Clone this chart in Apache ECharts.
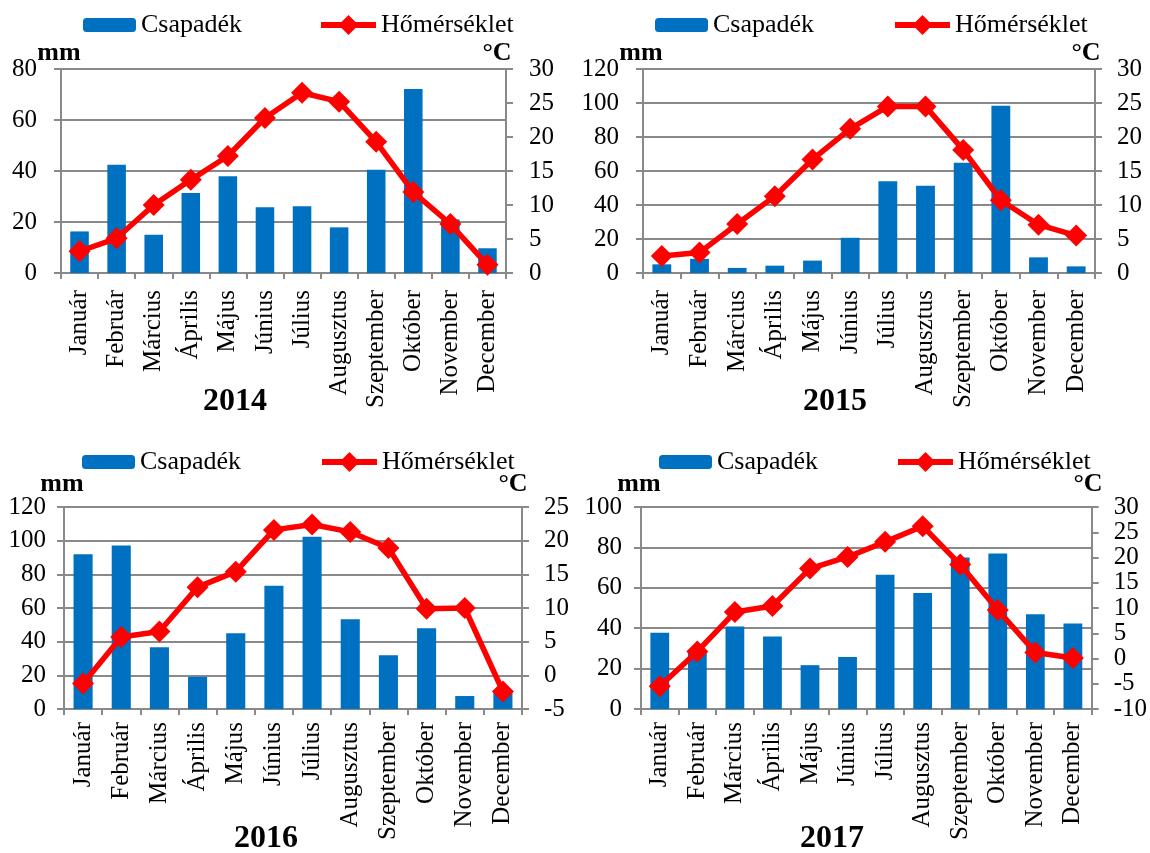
<!DOCTYPE html>
<html>
<head>
<meta charset="utf-8">
<script src="https://cdn.jsdelivr.net/npm/echarts@6/dist/echarts.min.js"></script>
<style>
  html, body { margin: 0; padding: 0; background: #ffffff; }
  #chart { width: 1150px; height: 853px; }
</style>
</head>
<body>
<div id="chart"></div>
<script>
// Monthly precipitation (mm) and mean temperature (°C), 2014–2017
const months = ['Január', 'Február', 'Március', 'Április', 'Május', 'Június',
                'Július', 'Augusztus', 'Szeptember', 'Október', 'November', 'December'];

const precip2014 = [16.3, 42.5, 15.0, 31.4, 37.9, 25.8, 26.2, 17.9, 40.5, 72.2, 21.0, 9.7];
const temp2014   = [3.2, 5.1, 10.0, 13.7, 17.2, 22.8, 26.5, 25.2, 19.3, 11.9, 7.2, 1.2];

const precip2015 = [5.1, 8.3, 3.0, 4.3, 7.3, 20.7, 53.9, 51.3, 64.9, 98.4, 9.2, 3.9];
const temp2015   = [2.5, 3.0, 7.2, 11.3, 16.7, 21.2, 24.5, 24.5, 18.1, 10.7, 7.1, 5.5];

const precip2016 = [92.0, 97.1, 36.7, 19.1, 45.0, 73.2, 102.4, 53.3, 32.0, 48.0, 7.7, 11.0];
const temp2016   = [-1.2, 5.7, 6.5, 13.1, 15.4, 21.6, 22.4, 21.3, 18.9, 9.9, 10.0, -2.4];

const precip2017 = [37.8, 28.4, 40.8, 35.9, 21.7, 25.7, 66.4, 57.4, 75.0, 77.0, 46.9, 42.3];
const temp2017   = [-5.5, 1.4, 9.2, 10.4, 17.8, 20.1, 23.1, 26.2, 18.6, 9.6, 1.2, 0.1];

const years = ['2014', '2015', '2016', '2017'];
const precipByYear = [precip2014, precip2015, precip2016, precip2017];
const tempByYear = [temp2014, temp2015, temp2016, temp2017];

// Axis ranges per panel: [mm max, °C min, °C max]
const axisRanges = [[80, 0, 30], [120, 0, 30], [120, -5, 25], [100, -10, 30]];

// Panel placement (pixels)
const layout = [
  { left: 61,  top: 69,  width: 445, height: 204, lblMargin: 17, lMargin: 24, rMargin: 23,
    legBar: 83,  legLine: 318, legY: 25,  unitY: 53,  yearX: 235, yearY: 402 },
  { left: 643, top: 69,  width: 452, height: 204, lblMargin: 17, lMargin: 24, rMargin: 22,
    legBar: 655, legLine: 892, legY: 25,  unitY: 53,  yearX: 835, yearY: 402 },
  { left: 64,  top: 507, width: 458, height: 202, lblMargin: 13, lMargin: 18, rMargin: 22,
    legBar: 82,  legLine: 319, legY: 462, unitY: 484, yearX: 266, yearY: 839 },
  { left: 641, top: 507, width: 456, height: 202, lblMargin: 13, lMargin: 19, rMargin: 22,
    legBar: 659, legLine: 895, legY: 462, unitY: 484, yearX: 832, yearY: 839 }
];

const FONT = '"Liberation Serif", "Times New Roman", serif';
const GRID_GRAY = '#898989';
const BAR_BLUE = '#0070C0';
const LINE_RED = '#FF0000';

const grids = [], xAxes = [], yAxes = [], series = [], legends = [], graphics = [];

years.forEach((year, i) => {
  const L = layout[i];
  const [mmMax, tMin, tMax] = axisRanges[i];

  grids.push({ left: L.left, top: L.top, width: L.width, height: L.height, containLabel: false });

  xAxes.push({
    type: 'category', gridIndex: i, data: months, boundaryGap: true,
    axisLine: { show: true, lineStyle: { color: GRID_GRAY, width: 2 } },
    axisTick: { show: true, length: 6, interval: 0, lineStyle: { color: GRID_GRAY, width: 2 } },
    axisLabel: { interval: 0, rotate: 90, margin: L.lblMargin, color: '#000',
                 fontFamily: FONT, fontSize: 25 },
    splitLine: { show: false }
  });

  yAxes.push({
    type: 'value', gridIndex: i, position: 'left', min: 0, max: mmMax, interval: 20,
    axisLine: { show: true, lineStyle: { color: GRID_GRAY, width: 2 } },
    axisTick: { show: true, length: 7, lineStyle: { color: GRID_GRAY, width: 2 } },
    axisLabel: { margin: L.lMargin, color: '#000', fontFamily: FONT, fontSize: 25 },
    splitLine: { show: true, lineStyle: { color: GRID_GRAY, width: 2 } }
  });
  yAxes.push({
    type: 'value', gridIndex: i, position: 'right', min: tMin, max: tMax, interval: 5,
    axisLine: { show: true, lineStyle: { color: GRID_GRAY, width: 2 } },
    axisTick: { show: true, length: 7, lineStyle: { color: GRID_GRAY, width: 2 } },
    axisLabel: { margin: L.rMargin, color: '#000', fontFamily: FONT, fontSize: 25 },
    splitLine: { show: false }
  });

  series.push({
    type: 'bar', name: 'Csapadék', xAxisIndex: i, yAxisIndex: 2 * i,
    data: precipByYear[i], barWidth: '50%',
    itemStyle: { color: BAR_BLUE }, z: 2
  });
  series.push({
    type: 'line', name: 'Hőmérséklet', xAxisIndex: i, yAxisIndex: 2 * i + 1,
    data: tempByYear[i], symbol: 'diamond', symbolSize: 22,
    lineStyle: { color: LINE_RED, width: 5.5 }, itemStyle: { color: LINE_RED },
    z: 3
  });

  const legText = { color: '#000', fontFamily: FONT, fontSize: 26 };
  legends.push({
    data: ['Csapadék'], left: L.legBar, top: L.legY - 13, padding: 0,
    itemWidth: 53, itemHeight: 14, selectedMode: false, textStyle: legText
  });
  legends.push({
    data: ['Hőmérséklet'], left: L.legLine, top: L.legY - 13, padding: 0,
    itemWidth: 55, itemHeight: 25, selectedMode: false, textStyle: legText,
    lineStyle: { color: LINE_RED, width: 6 }, itemStyle: { color: LINE_RED }
  });

  const unitFont = 'bold 26px ' + FONT;
  graphics.push({
    type: 'text', x: L.left - 2, y: L.unitY,
    style: { text: 'mm', font: unitFont, fill: '#000', textAlign: 'center', textVerticalAlign: 'middle' }
  });
  graphics.push({
    type: 'text', x: L.left + L.width - 9, y: L.unitY,
    style: { text: '°C', font: unitFont, fill: '#000', textAlign: 'center', textVerticalAlign: 'middle' }
  });
  graphics.push({
    type: 'text', x: L.yearX, y: L.yearY,
    style: { text: year, font: 'bold 32px ' + FONT, fill: '#000', textAlign: 'center', textVerticalAlign: 'middle' }
  });
});

const chart = echarts.init(document.getElementById('chart'), null, { renderer: 'canvas' });
chart.setOption({
  animation: false,
  backgroundColor: '#ffffff',
  grid: grids,
  xAxis: xAxes,
  yAxis: yAxes,
  legend: legends,
  series: series,
  graphic: graphics
});
</script>
</body>
</html>
